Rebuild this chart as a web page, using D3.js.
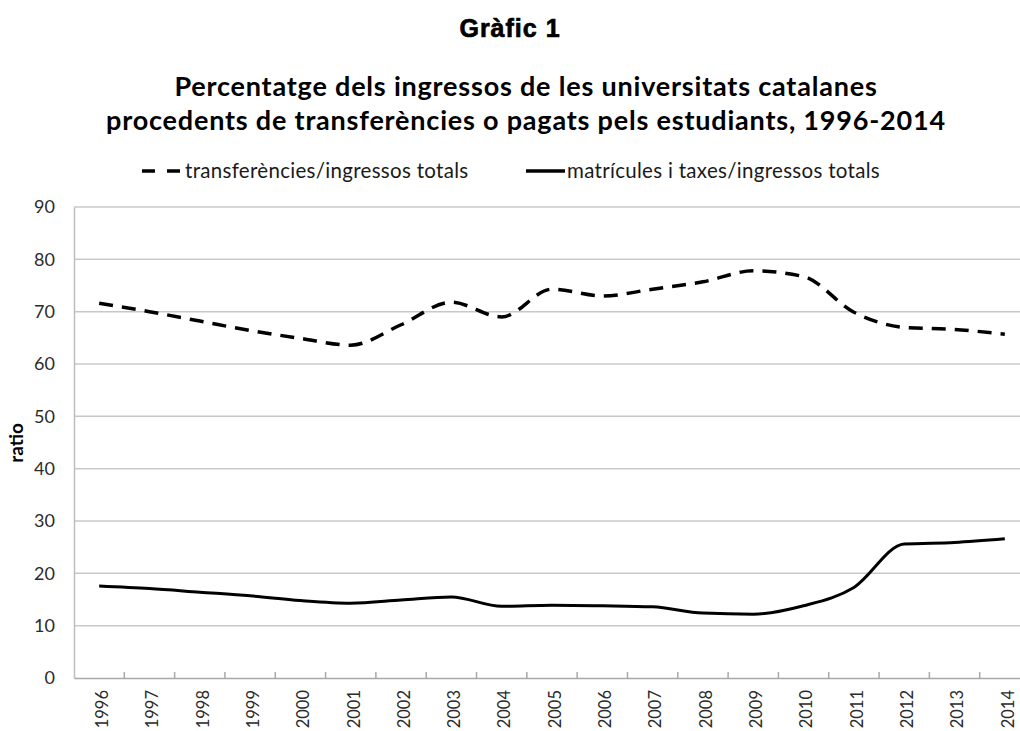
<!DOCTYPE html>
<html>
<head>
<meta charset="utf-8">
<script src="https://cdn.jsdelivr.net/npm/d3@7"></script>
<style>
  body { margin: 0; background: #fff; }
  svg { display: block; }
</style>
</head>
<body>
<div id="chart"></div>
<script>
// years on the x axis
const years = ['1996','1997','1998','1999','2000','2001','2002','2003','2004','2005',
               '2006','2007','2008','2009','2010','2011','2012','2013','2014'];
// transferències / ingressos totals (dashed)
const transfers = [71.6, 70.0, 68.2, 66.4, 64.9, 63.6, 67.5, 71.8, 69.0, 74.3,
                   73.0, 74.3, 75.7, 77.8, 76.7, 69.9, 67.0, 66.6, 65.7];
// matrícules i taxes / ingressos totals (solid)
const fees = [17.6, 17.1, 16.4, 15.7, 14.8, 14.3, 14.9, 15.5, 13.7, 13.9,
              13.8, 13.6, 12.4, 12.2, 13.8, 17.3, 25.6, 25.9, 26.6];
const yTicks = [0, 10, 20, 30, 40, 50, 60, 70, 80, 90];
const seriesNames = ['transferències/ingressos totals', 'matrícules i taxes/ingressos totals'];

const W = 1020, H = 731;
const margin = { top: 207, left: 74, bottom: 53 };
const plotW = 956;
const plotH = H - margin.top - margin.bottom;

const svg = d3.select('#chart')
    .append('svg')
    .attr('width', W)
    .attr('height', H);

// titles
svg.append('text')
    .attr('x', 510).attr('y', 37)
    .attr('text-anchor', 'middle')
    .style('font-family', '"Liberation Sans", Arial, sans-serif')
    .style('font-weight', 'bold')
    .style('font-size', '25px')
    .style('letter-spacing', '1px')
    .style('stroke', '#000').style('stroke-width', 0.7)
    .text('Gràfic 1');

const titleLines = ['Percentatge dels ingressos de les universitats catalanes',
                    'procedents de transferències o pagats pels estudiants, 1996-2014'];
svg.selectAll('.title')
    .data(titleLines)
    .enter().append('text')
    .attr('class', 'title')
    .attr('x', 526)
    .attr('y', (d, i) => 96 + i * 34)
    .attr('text-anchor', 'middle')
    .style('font-family', 'Lato, sans-serif')
    .style('font-weight', 'bold')
    .style('font-size', '27px')
    .style('letter-spacing', '0.8px')
    .text(d => d);

const g = svg.append('g')
    .attr('transform', `translate(${margin.left},${margin.top})`);

const x = d3.scaleBand()
    .domain(years)
    .range([0, plotW]);

const y = d3.scaleLinear()
    .domain([0, 90])
    .range([plotH, 0]);

// gridlines
g.selectAll('.grid')
    .data(yTicks.filter(t => t > 0))
    .enter().append('line')
    .attr('class', 'grid')
    .attr('x1', 0).attr('x2', plotW)
    .attr('y1', d => y(d)).attr('y2', d => y(d))
    .attr('stroke', '#c8c8c8')
    .attr('stroke-width', 1.5);

// y axis
const yAxis = g.append('g')
    .call(d3.axisLeft(y).tickValues(yTicks).tickSize(0).tickPadding(19));
yAxis.select('.domain').attr('stroke', '#bdbdbd').attr('stroke-width', 1.5);
yAxis.selectAll('text')
    .style('font-family', 'Lato, sans-serif')
    .style('font-size', '18px')
    .attr('fill', '#2b2b2b');

// x axis, ticks between categories pointing up
const xAxis = g.append('g')
    .attr('transform', `translate(0,${plotH})`)
    .call(d3.axisBottom(x).tickSize(0).tickPadding(0));
xAxis.select('.domain').attr('stroke', '#a8a8a8').attr('stroke-width', 1.5);
xAxis.selectAll('text')
    .attr('transform', 'rotate(-90)')
    .attr('text-anchor', 'end')
    .attr('x', -12)
    .attr('y', 3)
    .attr('dy', '0.35em')
    .style('font-family', 'Lato, sans-serif')
    .style('font-size', '16.5px')
    .attr('fill', '#2b2b2b');

g.selectAll('.xtick')
    .data(years.slice(1))
    .enter().append('line')
    .attr('class', 'xtick')
    .attr('x1', d => x(d)).attr('x2', d => x(d))
    .attr('y1', plotH).attr('y2', plotH - 6)
    .attr('stroke', '#a8a8a8')
    .attr('stroke-width', 1.5);

// y label
svg.append('text')
    .attr('transform', 'translate(23,443) rotate(-90)')
    .attr('text-anchor', 'middle')
    .style('font-family', 'Lato, sans-serif')
    .style('font-weight', 'bold')
    .style('font-size', '19px')
    .text('ratio');

// lines
const line = d3.line()
    .x((d, i) => x(years[i]) + x.bandwidth() / 2)
    .y(d => y(d))
    .curve(d3.curveMonotoneX);

g.append('path')
    .datum(transfers)
    .attr('d', line)
    .attr('fill', 'none')
    .attr('stroke', '#000')
    .attr('stroke-width', 3.5)
    .attr('stroke-dasharray', '14,9');

g.append('path')
    .datum(fees)
    .attr('d', line)
    .attr('fill', 'none')
    .attr('stroke', '#000')
    .attr('stroke-width', 3);

// legend
const legendItems = [
    { name: seriesNames[0], x: 142, dash: '13,12' },
    { name: seriesNames[1], x: 526, dash: null }
];
const leg = svg.selectAll('.legend')
    .data(legendItems)
    .enter().append('g')
    .attr('class', 'legend')
    .attr('transform', d => `translate(${d.x},171)`);

leg.append('line')
    .attr('x1', 0).attr('x2', 39)
    .attr('stroke', '#000')
    .attr('stroke-width', 3.5)
    .attr('stroke-dasharray', d => d.dash);

leg.append('text')
    .attr('x', d => d.dash ? 43 : 41)
    .attr('y', 7)
    .style('font-family', 'Lato, sans-serif')
    .style('font-size', '20.5px')
    .style('letter-spacing', '0.3px')
    .attr('fill', '#1a1a1a')
    .text(d => d.name);
</script>
</body>
</html>
